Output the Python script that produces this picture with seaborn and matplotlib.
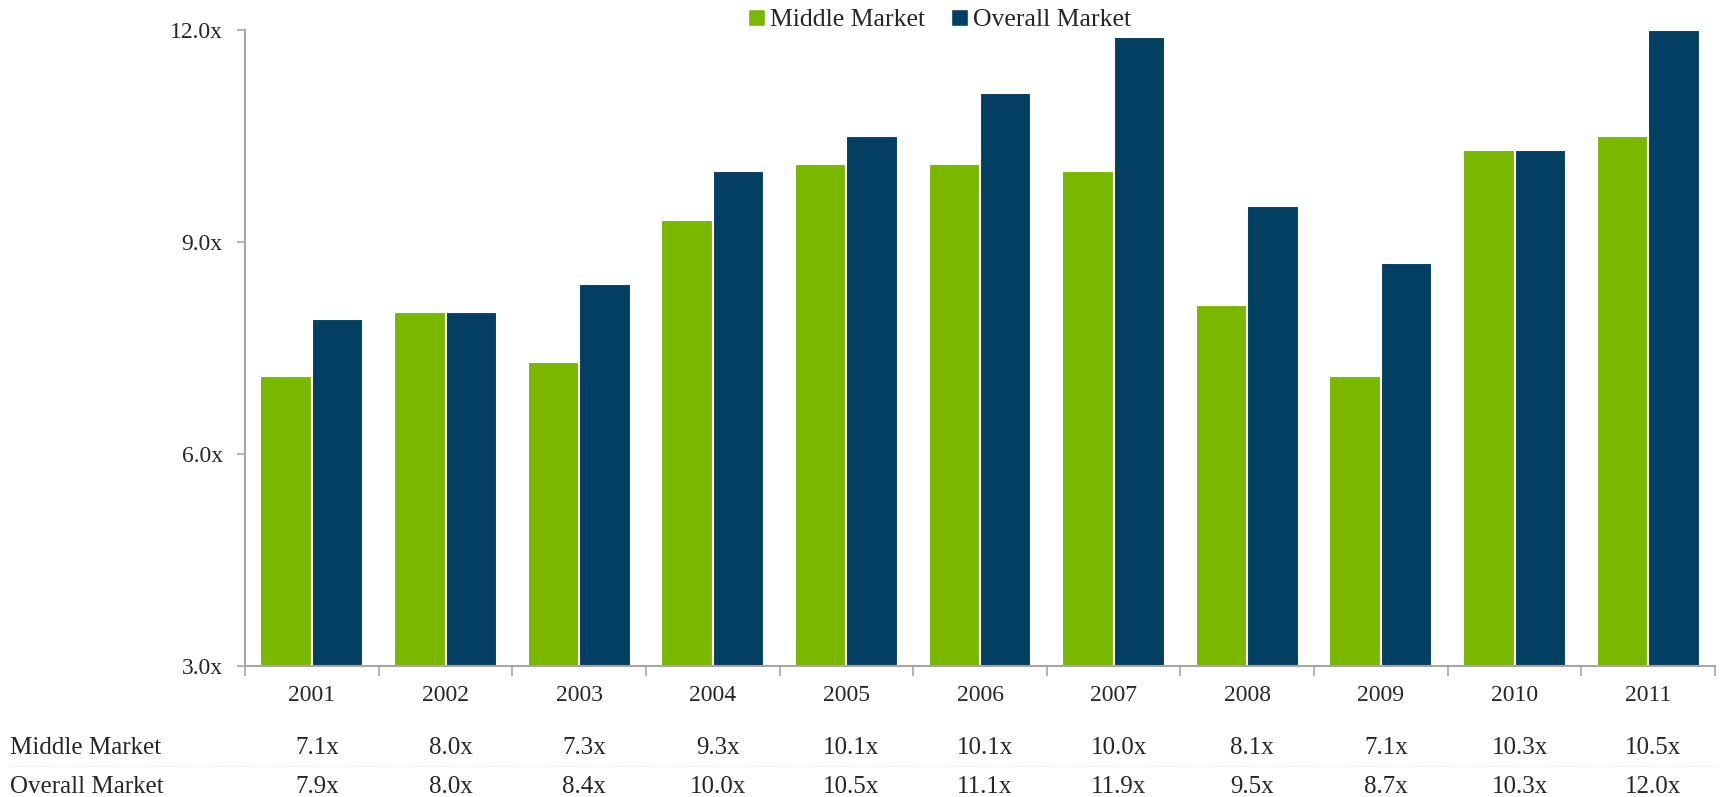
import matplotlib
matplotlib.use("Agg")
import matplotlib.pyplot as plt
from matplotlib.patches import Patch
from matplotlib.ticker import FixedLocator, FuncFormatter
import seaborn as sns
import pandas as pd

years = ["2001", "2002", "2003", "2004", "2005", "2006", "2007", "2008", "2009", "2010", "2011"]
middle_market = [7.1, 8.0, 7.3, 9.3, 10.1, 10.1, 10.0, 8.1, 7.1, 10.3, 10.5]
overall_market = [7.9, 8.0, 8.4, 10.0, 10.5, 11.1, 11.9, 9.5, 8.7, 10.3, 12.0]
series_names = ["Middle Market", "Overall Market"]
colors = ["#7AB800", "#023F63"]

df = pd.DataFrame({
    "Year": years * 2,
    "Value": middle_market + overall_market,
    "Series": [series_names[0]] * len(years) + [series_names[1]] * len(years),
})

sns.set_theme(style="white")
plt.rcParams["font.family"] = ["Liberation Serif", "DejaVu Serif"]

fig = plt.figure(figsize=(17.21, 7.97), dpi=100)
ax = fig.add_axes([0.1424, 0.1644, 0.8541, 0.7985])

sns.barplot(data=df, x="Year", y="Value", hue="Series", order=years,
            hue_order=series_names, palette=colors, width=0.77,
            edgecolor="white", linewidth=1.5, saturation=1, ax=ax, legend=False)

ax.set_ylim(3, 12)
ax.set_xlim(-0.5, len(years) - 0.5)
ax.set_yticks([3, 6, 9, 12])
ax.yaxis.set_major_formatter(FuncFormatter(lambda v, p: f"{v:.1f}x"))
ax.set_xlabel("")
ax.set_ylabel("")
for s in ["top", "right"]:
    ax.spines[s].set_visible(False)
for s in ["left", "bottom"]:
    ax.spines[s].set_color("#A6A6A6")
    ax.spines[s].set_linewidth(1.5)

ax.tick_params(axis="y", which="major", direction="out", length=6, width=1.2,
               color="#A6A6A6", labelsize=17, pad=10, left=True)
ax.tick_params(axis="x", which="major", length=0, labelsize=17, pad=14)
ax.xaxis.set_minor_locator(FixedLocator([i - 0.5 for i in range(len(years) + 1)]))
ax.tick_params(axis="x", which="minor", direction="out", length=7, width=1.2,
               color="#A6A6A6", bottom=True)

# Legend
handles = [Patch(facecolor=c, edgecolor="white") for c in colors]
fig.legend(handles, series_names, loc="center", bbox_to_anchor=(0.546, 0.975),
           ncol=2, frameon=False, fontsize=18.5, handlelength=0.65, handleheight=0.65,
           handletextpad=0.2, columnspacing=1.0, borderpad=0)

# Data table below the chart
row_y = [1 - 748 / 797, 1 - 787 / 797]
rows = [middle_market, overall_market]
for name, vals, yy in zip(series_names, rows, row_y):
    fig.text(10 / 1721, yy, name, ha="left", va="center", fontsize=18)
    for i, v in enumerate(vals):
        xd = ax.transData.transform((i, 0))[0]
        xf = fig.transFigure.inverted().transform((xd + 5, 0))[0]
        fig.text(xf, yy, f"{v:.1f}x", ha="center", va="center", fontsize=18)

fig.add_artist(plt.Line2D([10 / 1721, 1715 / 1721], [1 - 766 / 797] * 2,
                          color="#E6E6E6", linewidth=1, linestyle=(0, (1, 1)),
                          transform=fig.transFigure))

fig.savefig("out.png", dpi=100)
